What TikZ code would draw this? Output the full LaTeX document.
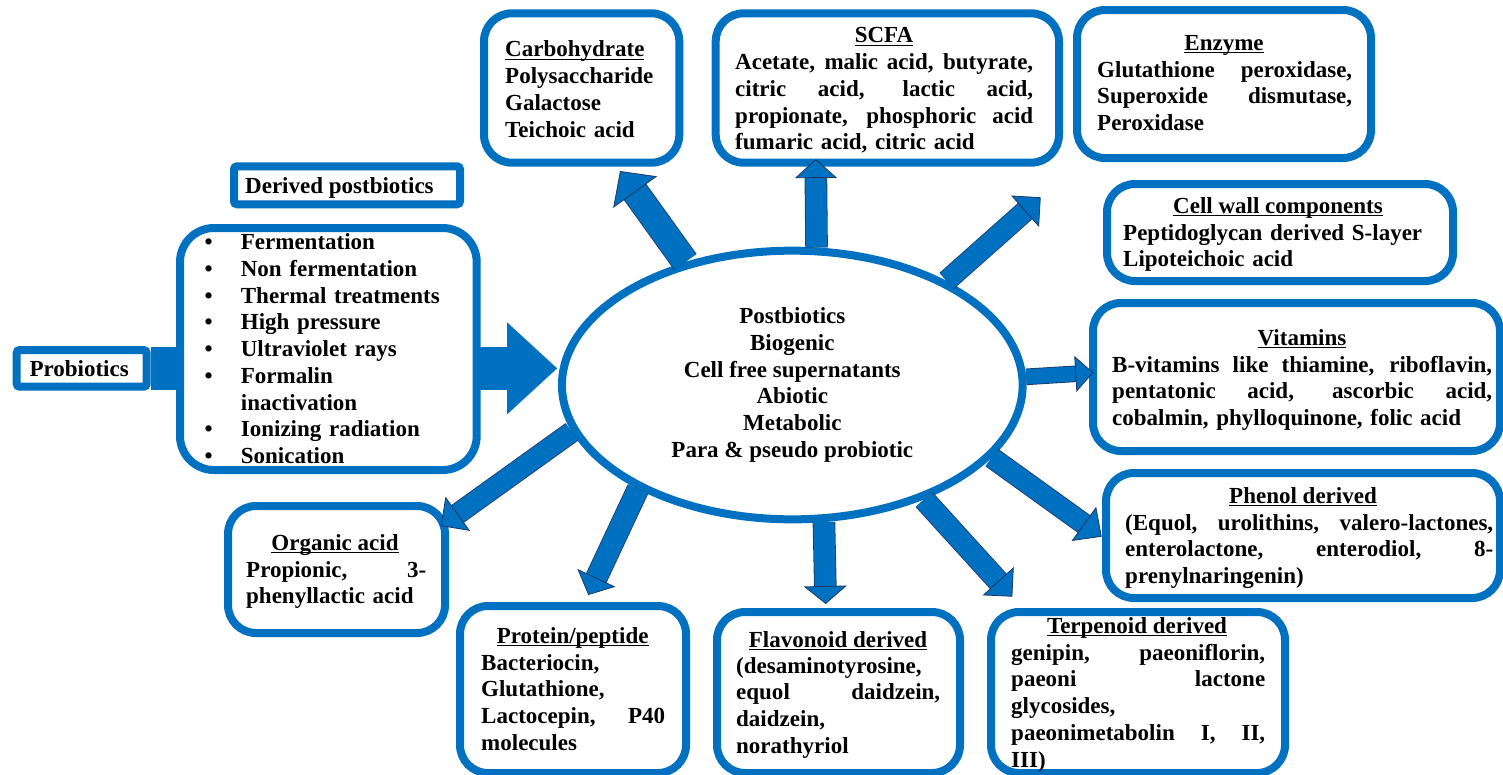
\documentclass[tikz,border=0pt]{standalone}
\usepackage{fontspec}
\setmainfont{Liberation Serif}
\usetikzlibrary{shapes.geometric,arrows.meta}
\definecolor{myblue}{HTML}{0070C0}
\definecolor{arrowline}{HTML}{203864}
\newcommand\tf{\fontsize{23}{26.75}\selectfont\bfseries}
\newcommand\fs{\rule{0pt}{20pt}}
\newcommand\jl[2]{\makebox[#1][s]{\spaceskip=0pt\xspaceskip=0pt #2}}
\newcommand\ulx[1]{\leavevmode\setbox0\hbox{#1}\rlap{\rule[-3.2pt]{\wd0}{1.3pt}}\box0}
\newcommand\bl{\makebox[36.4pt][l]{\textbullet}}
\begin{document}
\begin{tikzpicture}[x=1pt,y=-1pt,
  rbox/.style={draw=myblue, line width=8pt, fill=white, rounded corners=28pt, inner sep=0pt},
  sbox/.style={draw=myblue, line width=8pt, fill=white, rounded corners=3pt, inner sep=0pt},
  body/.style={anchor=north west, align=left, inner sep=0pt, font=\tf},
  head/.style={anchor=base, inner sep=0pt, font=\tf},
  barrow/.style n args={3}{draw=myblue, line width=#1,
     -{Triangle[width=#2, length=#3, line width=0.8pt, color=arrowline, fill=myblue]},
     preaction={draw=arrowline, line width=#1+1.6pt, -, shorten >=#3-1pt}},
  bigarrow/.style={draw=myblue, line width=43pt,
     -{Triangle[width=92pt, length=50pt, line width=0.1pt, color=myblue, fill=myblue]}}
]
\useasboundingbox (0,0) rectangle (1503,774);

% probiotics and process box
\node[sbox, minimum width=130pt, minimum height=36.7pt] (prob) at (81.7,368.35) {};
\coordinate (bigtip) at (557,368.35);
\draw[bigarrow] (prob) -- (bigtip);
\node[head, anchor=base west] (probT) at (29.3,376.7) {Probiotics};
\node[rbox, rounded corners=34pt, minimum width=296.7pt, minimum height=242pt] (proc) at (328.35,349) {};
\node[body, text width=280pt] (procT) at (204.3,229.3) {\fs\bl Fermentation\\\bl Non fermentation\\\bl Thermal treatments\\\bl High pressure\\\bl Ultraviolet rays\\\bl Formalin\\\hspace*{36.4pt}inactivation\\\bl Ionizing radiation\\\bl Sonication};
\node[sbox, minimum width=226pt, minimum height=38pt] (der) at (347,185.3) {};
\node[head, anchor=base west] (derT) at (245,193.3) {Derived postbiotics};

% central ellipse
\node[ellipse, draw=myblue, line width=8pt, fill=white, minimum width=460.7pt, minimum height=268.7pt, inner sep=0pt, align=center, font=\tf] (ell) at (792.3,385)
  {Postbiotics\\Biogenic\\Cell free supernatants\\Abiotic\\Metabolic\\Para \& pseudo probiotic};

% carbohydrate
\node[rbox, minimum width=195.3pt, minimum height=149.4pt] (carb) at (581.65,88) {};
\node[body, text width=170pt] (carbT) at (505,36.7) {\fs\ulx{Carbohydrate}\\Polysaccharide\\Galactose\\Teichoic acid};

% SCFA
\node[rbox, minimum width=343.3pt, minimum height=149.4pt] (scfa) at (887.35,88) {};
\node[head] (scfaH) at (884,42.7) {\ulx{SCFA}};
\node[body, text width=298pt] (scfaT) at (735,49.3) {\fs\jl{298pt}{Acetate, malic acid, butyrate,}\\\jl{298pt}{citric acid, lactic acid,}\\\jl{298pt}{propionate, phosphoric acid}\\fumaric acid, citric acid};

% Enzyme
\node[rbox, minimum width=294pt, minimum height=148pt] (enz) at (1224,84) {};
\node[head] (enzH) at (1224,50) {\ulx{Enzyme}};
\node[body, text width=255pt] (enzT) at (1097,57) {\fs\jl{255pt}{Glutathione peroxidase,}\\\jl{255pt}{Superoxide dismutase,}\\Peroxidase};

% Cell wall
\node[rbox, minimum width=346pt, minimum height=97pt] (cell) at (1280,232.5) {};
\node[head] (cellH) at (1278,213) {\ulx{Cell wall components}};
\node[body, text width=320pt] (cellT) at (1123,220) {\fs Peptidoglycan derived S-layer\\Lipoteichoic acid};

% Vitamins
\node[rbox, minimum width=407pt, minimum height=148pt] (vit) at (1296.5,377) {};
\node[head] (vitH) at (1302,345) {\ulx{Vitamins}};
\node[body, text width=380pt] (vitT) at (1112,352) {\fs\jl{380pt}{B-vitamins like thiamine, riboflavin,}\\\jl{380pt}{pentatonic acid, ascorbic acid,}\\cobalmin, phylloquinone, folic acid};

% Phenol
\node[rbox, minimum width=394pt, minimum height=125pt] (phen) at (1303,535.5) {};
\node[head] (phenH) at (1303,503) {\ulx{Phenol derived}};
\node[body, text width=368pt] (phenT) at (1125,510) {\fs\jl{368pt}{(Equol, urolithins, valero-lactones,}\\\jl{368pt}{enterolactone, enterodiol, 8-}\\prenylnaringenin)};

% Terpenoid
\node[rbox, minimum width=294pt, minimum height=161pt] (terp) at (1138,692.5) {};
\node[head] (terpH) at (1137,633) {\ulx{Terpenoid derived}};
\node[body, text width=254pt] (terpT) at (1011,640) {\fs\jl{254pt}{genipin, paeoniflorin,}\\\jl{254pt}{paeoni lactone}\\glycosides,\\\jl{254pt}{paeonimetabolin I, II,}\\III)};

% Flavonoid
\node[rbox, minimum width=243pt, minimum height=161pt] (flav) at (838.5,692.5) {};
\node[head] (flavH) at (838,647) {\ulx{Flavonoid derived}};
\node[body, text width=204pt] (flavT) at (736,653) {\fs(desaminotyrosine,\\\jl{204pt}{equol daidzein,}\\daidzein,\\norathyriol};

% Protein
\node[rbox, minimum width=226pt, minimum height=167pt] (prot) at (573,689.5) {};
\node[head] (protH) at (572.7,643) {\ulx{Protein/peptide}};
\node[body, text width=184pt] (protT) at (481,650) {\fs Bacteriocin,\\Glutathione,\\\jl{184pt}{Lactocepin, P40}\\molecules};

% Organic acid
\node[rbox, minimum width=217pt, minimum height=127pt] (org) at (336.5,569.5) {};
\node[head] (orgH) at (335,550) {\ulx{Organic acid}};
\node[body, text width=180pt] (orgT) at (246,557) {\fs\jl{180pt}{Propionic, 3-}\\phenyllactic acid};

% arrow tips
\coordinate (tipCarb) at (620,171);
\coordinate (tipScfa) at (815.7,159);
\coordinate (tipUp) at (1040.7,197.3);
\coordinate (tipVit) at (1093.3,372.7);
\coordinate (tipPhen) at (1101.7,536.7);
\coordinate (tipTerp) at (1012.3,596.7);
\coordinate (tipFlav) at (825.7,604);
\coordinate (tipProt) at (588.3,595);
\coordinate (tipOrg) at (440.7,526);

\draw[barrow={26pt}{54pt}{26pt}] (ell.131) -- (tipCarb);
\draw[barrow={21pt}{42pt}{19pt}] (ell.80) -- (tipScfa);
\draw[barrow={20pt}{42pt}{21pt}] (ell.34) -- (tipUp);
\draw[barrow={15pt}{36pt}{18pt}] (ell.2) -- (tipVit);
\draw[barrow={20pt}{42pt}{22pt}] (ell.-20) -- (tipPhen);
\draw[barrow={21pt}{42pt}{21pt}] (ell.-41) -- (tipTerp);
\draw[barrow={21pt}{43pt}{18pt}] (ell.-77) -- (tipFlav);
\draw[barrow={21pt}{42pt}{19pt}] (ell.-146) -- (tipProt);
\draw[barrow={20pt}{42pt}{21pt}] (ell.-168) -- (tipOrg);
\end{tikzpicture}
\end{document}
